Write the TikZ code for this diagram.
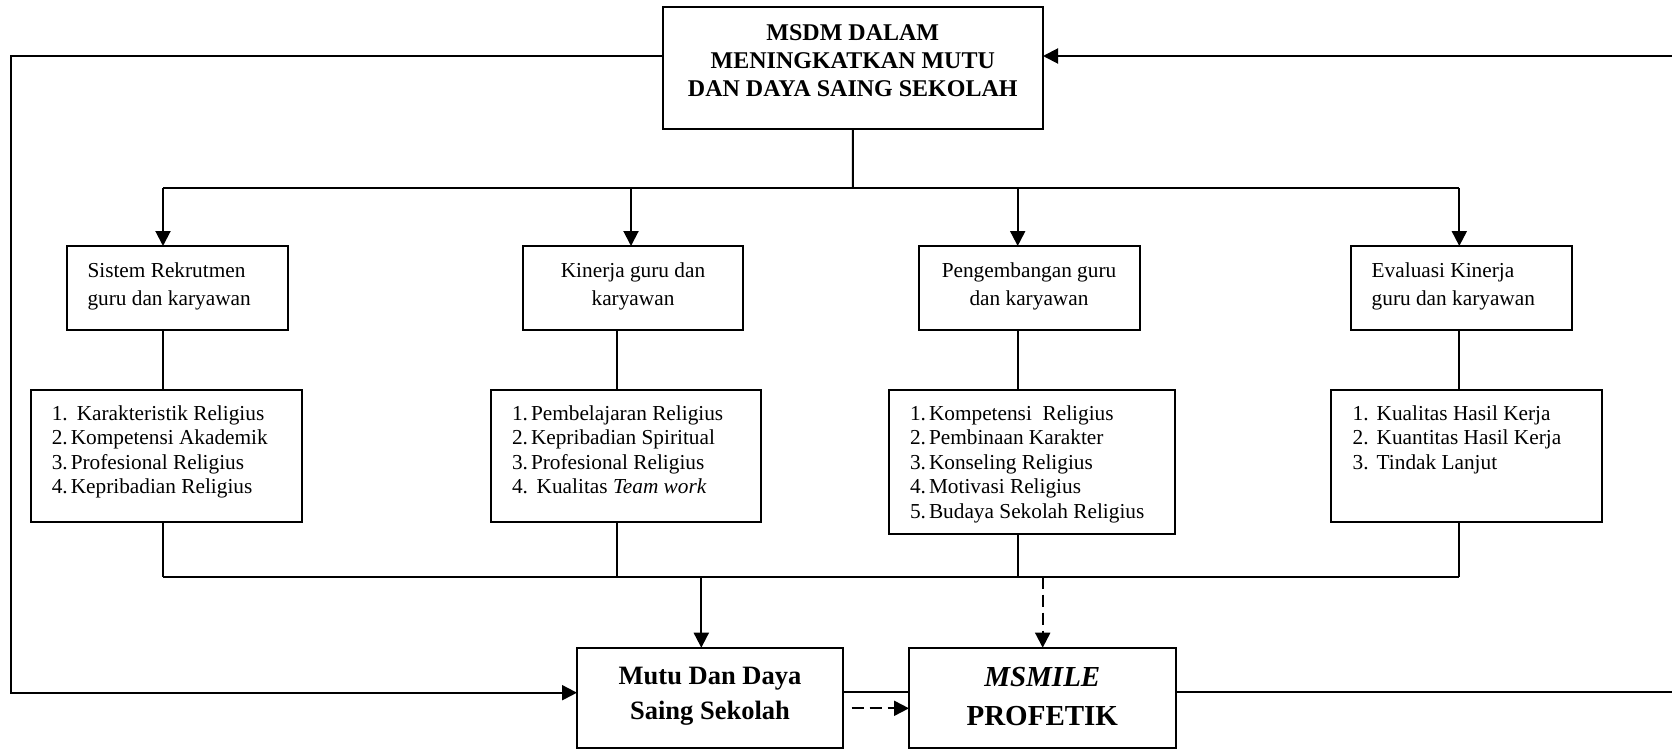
\documentclass[tikz,border=0pt]{standalone}
\usepackage{fontspec}
\setmainfont{Liberation Serif}
\usetikzlibrary{arrows.meta}

% font sizes used in the chart
\newcommand\headsize{\fontsize{21.3}{27.7}\selectfont}
\newcommand\listsize{\fontsize{21.3}{24.5}\selectfont}
\newcommand\titlesize{\fontsize{24}{27.7}\selectfont\bfseries}
\newcommand\mutusize{\fontsize{26.5}{35}\selectfont\bfseries}
\newcommand\profsize{\fontsize{29}{38.3}\selectfont\bfseries}
% list number with a fixed hanging width
\newcommand\itemno[2][19pt]{\makebox[#1][l]{#2}}

\begin{document}
\begin{tikzpicture}[x=1pt,y=-1pt,
  box/.style={draw, line width=2pt, inner sep=0pt, outer sep=0pt, anchor=north west},
  lbl/.style={inner sep=0pt, outer sep=0pt},
  link/.style={line width=2pt},
  flow/.style={line width=2pt, -{Triangle[length=15pt,width=15pt]}},
  dflow/.style={flow, dash pattern=on 12pt off 6pt},
]
\useasboundingbox (0,0) rectangle (1672,749);

% title box
\node[box, minimum width=380.3pt, minimum height=122.6pt] (top) at (662.7,6.7) {};
\node[lbl, anchor=base, font=\titlesize] (topT) at (852.8,40.7)
  {\begin{tabular}[t]{@{}c@{}}MSDM DALAM\\MENINGKATKAN MUTU\\DAN DAYA SAING SEKOLAH\end{tabular}};

% four aspect boxes
\node[box, minimum width=220.5pt, minimum height=84pt] (sisH) at (67,246) {};
\node[box, minimum width=220.5pt, minimum height=84pt] (kinH) at (522.7,246) {};
\node[box, minimum width=220.5pt, minimum height=84pt] (pgH) at (919,246) {};
\node[box, minimum width=220.5pt, minimum height=84pt] (evH) at (1351,246) {};

\node[lbl, anchor=base west, font=\headsize] (sisT) at (87.5,277.3)
  {\begin{tabular}[t]{@{}l@{}}Sistem Rekrutmen\\guru dan karyawan\end{tabular}};
\node[lbl, anchor=base, font=\headsize] (kinT) at (633,277.3)
  {\begin{tabular}[t]{@{}c@{}}Kinerja guru dan\\karyawan\end{tabular}};
\node[lbl, anchor=base, font=\headsize] (pgT) at (1029,277.3)
  {\begin{tabular}[t]{@{}c@{}}Pengembangan guru\\dan karyawan\end{tabular}};
\node[lbl, anchor=base west, font=\headsize] (evT) at (1371.7,277.3)
  {\begin{tabular}[t]{@{}l@{}}Evaluasi Kinerja\\guru dan karyawan\end{tabular}};

% indicator boxes
\node[box, minimum width=271.1pt, minimum height=132pt] (sisI) at (30.7,390) {};
\node[box, minimum width=270.6pt, minimum height=131.7pt] (kinI) at (490.7,390) {};
\node[box, minimum width=286.3pt, minimum height=144pt] (pgI) at (889,390) {};
\node[box, minimum width=270.7pt, minimum height=132.3pt] (evI) at (1331,390) {};

\node[lbl, anchor=base west, font=\listsize] (sisL) at (51.8,420)
  {\begin{tabular}[t]{@{}l@{}}\itemno[25pt]{1.}Karakteristik Religius\\
   \itemno{2.}Kompetensi Akademik\\\itemno{3.}Profesional Religius\\
   \itemno{4.}Kepribadian Religius\end{tabular}};
\node[lbl, anchor=base west, font=\listsize] (kinL) at (512,420)
  {\begin{tabular}[t]{@{}l@{}}\itemno{1.}Pembelajaran Religius\\
   \itemno{2.}Kepribadian Spiritual\\\itemno{3.}Profesional Religius\\
   \itemno[24.7pt]{4.}Kualitas \textit{Team work}\end{tabular}};
\node[lbl, anchor=base west, font=\listsize] (pgL) at (910,420)
  {\begin{tabular}[t]{@{}l@{}}\itemno{1.}Kompetensi\ \ Religius\\
   \itemno{2.}Pembinaan Karakter\\\itemno{3.}Konseling Religius\\
   \itemno{4.}Motivasi Religius\\\itemno{5.}Budaya Sekolah Religius\end{tabular}};
\node[lbl, anchor=base west, font=\listsize] (evL) at (1352.7,420)
  {\begin{tabular}[t]{@{}l@{}}\itemno[24pt]{1.}Kualitas Hasil Kerja\\
   \itemno[24pt]{2.}Kuantitas Hasil Kerja\\\itemno[24pt]{3.}Tindak Lanjut\end{tabular}};

% outcome boxes
\node[box, minimum width=266.3pt, minimum height=99.8pt] (mutu) at (577,647.7) {};
\node[box, minimum width=266.7pt, minimum height=99.8pt] (ms) at (909,647.7) {};
\node[lbl, anchor=base, font=\mutusize] (mutuT) at (710,684)
  {\begin{tabular}[t]{@{}c@{}}Mutu Dan Daya\\Saing Sekolah\end{tabular}};
\node[lbl, anchor=base, font=\profsize] (msT) at (1042.3,686.7)
  {\begin{tabular}[t]{@{}c@{}}\textit{MSMILE}\\PROFETIK\end{tabular}};

% upper distribution bus
\coordinate (busT) at (852.8,188);
\coordinate (c1) at (163,188);
\coordinate (c2) at (631,188);
\coordinate (c3) at (1017.7,188);
\coordinate (c4) at (1459.3,188);
\draw[link] (top.south) -- (busT);
\draw[link] (c1) -- (c4);
\draw[flow] (c1) -- (c1 |- sisH.north);
\draw[flow] (c2) -- (c2 |- kinH.north);
\draw[flow] (c3) -- (c3 |- pgH.north);
\draw[flow] (c4) -- (c4 |- evH.north);

% lower collecting bus
\coordinate (k1) at (163,576.5);
\coordinate (k2) at (617,576.5);
\coordinate (k3) at (1017.7,576.5);
\coordinate (k4) at (1459.3,576.5);
\draw[link] (sisH.south -| k1) -- (sisI.north -| k1);
\draw[link] (kinH.south -| k2) -- (kinI.north -| k2);
\draw[link] (pgH.south -| k3) -- (pgI.north -| k3);
\draw[link] (evH.south -| k4) -- (evI.north -| k4);
\draw[link] (sisI.south -| k1) -- (k1);
\draw[link] (kinI.south -| k2) -- (k2);
\draw[link] (pgI.south -| k3) -- (k3);
\draw[link] (evI.south -| k4) -- (k4);
\draw[link] (k1) -- (k4);

\coordinate (m1) at (701.3,576.5);
\coordinate (m2) at (1042.7,576.5);
\draw[flow] (m1) -- (m1 |- mutu.north);
\draw[dflow] (m2) -- (m2 |- ms.north);

% feedback loops
\coordinate (fbT) at (11,56);
\coordinate (fbB) at (11,692.7);
\draw[flow] (top.west |- fbT) -- (fbT) -- (fbB) -- (fbB -| mutu.west);

\coordinate (jy) at (0,692);
\coordinate (dy) at (0,708.3);
\draw[link] (mutu.east |- jy) -- (ms.west |- jy);
\draw[dflow, shorten <=8.4pt] (mutu.east |- dy) -- (ms.west |- dy);

\coordinate (eR1) at (1672,692.3);
\coordinate (eR2) at (1672,56);
\draw[link] (ms.east |- eR1) -- (eR1);
\draw[flow] (eR2) -- (top.east |- eR2);
\end{tikzpicture}
\end{document}
